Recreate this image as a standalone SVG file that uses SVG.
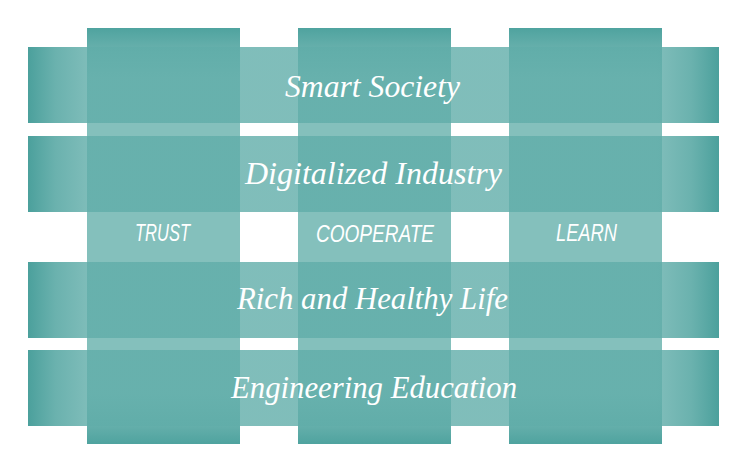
<svg xmlns="http://www.w3.org/2000/svg" width="731" height="455" viewBox="0 0 731 455">
  <defs>
    <linearGradient id="colGrad" x1="0" y1="0" x2="0" y2="1">
      <stop offset="0" stop-color="#4fa39f"/>
      <stop offset="0.045" stop-color="#65afab"/>
      <stop offset="0.12" stop-color="#84c0bc"/>
      <stop offset="0.88" stop-color="#84c0bc"/>
      <stop offset="0.955" stop-color="#65afab"/>
      <stop offset="1" stop-color="#4fa39f"/>
    </linearGradient>
    <linearGradient id="bandGrad" x1="0" y1="0" x2="1" y2="0">
      <stop offset="0" stop-color="#4ba09c" stop-opacity="1"/>
      <stop offset="0.04" stop-color="#5aa9a5" stop-opacity="0.9"/>
      <stop offset="0.09" stop-color="#60ada9" stop-opacity="0.8"/>
      <stop offset="0.91" stop-color="#60ada9" stop-opacity="0.8"/>
      <stop offset="0.96" stop-color="#5aa9a5" stop-opacity="0.9"/>
      <stop offset="1" stop-color="#4ba09c" stop-opacity="1"/>
    </linearGradient>
  </defs>
  <style>
    .col { fill: url(#colGrad); }
    .band { fill: url(#bandGrad); }
    .big { font-family: "Liberation Serif", "DejaVu Serif", serif; font-style: italic; font-size: 32px; fill: #ffffff; }
    .small { font-family: "Liberation Sans", "DejaVu Sans", sans-serif; font-style: italic; font-size: 23px; fill: #ffffff; }
  </style>
  <rect width="731" height="455" fill="#ffffff"/>

  <g id="col-trust">
    <rect class="col" x="87" y="28" width="153" height="416"/>
    <text class="small" x="135" y="241" textLength="55" lengthAdjust="spacingAndGlyphs">TRUST</text>
  </g>
  <g id="col-cooperate">
    <rect class="col" x="298" y="28" width="153" height="416"/>
    <text class="small" x="316" y="242" textLength="118" lengthAdjust="spacingAndGlyphs">COOPERATE</text>
  </g>
  <g id="col-learn">
    <rect class="col" x="509" y="28" width="153" height="416"/>
    <text class="small" x="556" y="241" textLength="61" lengthAdjust="spacingAndGlyphs">LEARN</text>
  </g>

  <g id="band-smart-society">
    <rect class="band" x="28" y="47" width="691" height="76"/>
    <text class="big" x="285" y="97" textLength="175" lengthAdjust="spacingAndGlyphs">Smart Society</text>
  </g>
  <g id="band-digitalized-industry">
    <rect class="band" x="28" y="136" width="691" height="76"/>
    <text class="big" x="245" y="184" textLength="257" lengthAdjust="spacingAndGlyphs">Digitalized Industry</text>
  </g>
  <g id="band-rich-healthy-life">
    <rect class="band" x="28" y="262" width="691" height="76"/>
    <text class="big" x="237" y="309" textLength="271" lengthAdjust="spacingAndGlyphs">Rich and Healthy Life</text>
  </g>
  <g id="band-engineering-education">
    <rect class="band" x="28" y="350" width="691" height="76"/>
    <text class="big" x="231" y="398" textLength="286" lengthAdjust="spacingAndGlyphs">Engineering Education</text>
  </g>

  <g id="connectors"></g>
</svg>
